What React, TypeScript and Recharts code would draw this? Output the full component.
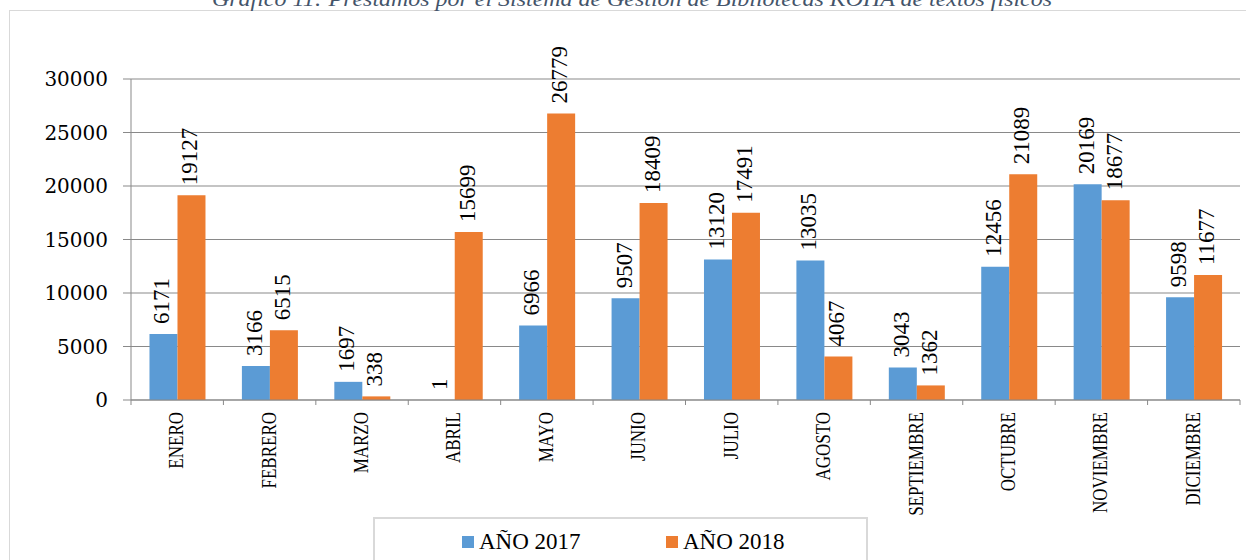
import { BarChart, Bar, XAxis, YAxis, CartesianGrid, LabelList } from "recharts";

const months = [
  "ENERO",
  "FEBRERO",
  "MARZO",
  "ABRIL",
  "MAYO",
  "JUNIO",
  "JULIO",
  "AGOSTO",
  "SEPTIEMBRE",
  "OCTUBRE",
  "NOVIEMBRE",
  "DICIEMBRE",
];
const prestamos2017 = [6171, 3166, 1697, 1, 6966, 9507, 13120, 13035, 3043, 12456, 20169, 9598];
const prestamos2018 = [19127, 6515, 338, 15699, 26779, 18409, 17491, 4067, 1362, 21089, 18677, 11677];
const yTicks = [0, 5000, 10000, 15000, 20000, 25000, 30000];
const seriesNames = ["AÑO 2017", "AÑO 2018"];
const title = "Gráfico 11: Préstamos por el Sistema de Gestión de Bibliotecas KOHA de textos físicos";

const data = months.map((mes, i) => ({
  mes,
  a2017: prestamos2017[i],
  a2018: prestamos2018[i],
}));

const BLUE = "#5B9BD5";
const ORANGE = "#ED7D31";
const GRID = "#898989";
const SERIF = "'Liberation Serif', serif";

function MonthTick(props: any) {
  const { x, y, payload, index, visibleTicksCount, width } = props;
  const half = payload?.offset || width / visibleTicksCount / 2;
  return (
    <g>
      <line x1={x - half} x2={x - half} y1={y} y2={y + 5} stroke={GRID} />
      {index === visibleTicksCount - 1 && (
        <line x1={x + half} x2={x + half} y1={y} y2={y + 5} stroke={GRID} />
      )}
      <text
        transform={`translate(${x + 6},${y + 12}) rotate(-90) scale(0.85,1)`}
        textAnchor="end"
        fontFamily={SERIF}
        fontSize={20}
        fill="#000"
      >
        {payload.value}
      </text>
    </g>
  );
}

function ValueLabel(props: any) {
  const { x, y, width, value } = props;
  return (
    <text
      transform={`translate(${x + width / 2 + 6},${y - 10}) rotate(-90)`}
      textAnchor="start"
      fontFamily={SERIF}
      fontSize={23}
      fill="#000"
    >
      {value}
    </text>
  );
}

export default function App() {
  return (
    <div
      style={{
        position: "absolute",
        left: 0,
        top: 0,
        width: 1246,
        height: 560,
        overflow: "hidden",
        background: "#fff",
      }}
    >
      <div
        style={{
          position: "absolute",
          left: 9,
          top: 10,
          width: 1260,
          height: 600,
          border: "1px solid #d9d9d9",
        }}
      />
      <svg width={1246} height={30} style={{ position: "absolute", left: 0, top: 0 }}>
        <text
          x={632}
          y={6}
          textAnchor="middle"
          fontFamily={SERIF}
          fontStyle="italic"
          fontSize={21}
          fill="#44546A"
          textLength={840}
          lengthAdjust="spacingAndGlyphs"
        >
          {title}
        </text>
      </svg>
      <div style={{ position: "absolute", left: 0, top: 0 }}>
        <BarChart
          width={1246}
          height={560}
          data={data}
          margin={{ top: 79, right: 6, bottom: 0, left: 0 }}
          barCategoryGap="20%"
          barGap={0}
        >
          <CartesianGrid vertical={false} stroke={GRID} />
          <XAxis
            dataKey="mes"
            height={160}
            interval={0}
            tickSize={0}
            tickMargin={0}
            tickLine={false}
            axisLine={{ stroke: GRID }}
            tick={<MonthTick />}
          />
          <YAxis
            width={131}
            domain={[0, 30000]}
            ticks={yTicks}
            tickSize={8}
            tickMargin={15}
            tickLine={{ stroke: GRID }}
            axisLine={{ stroke: GRID }}
            tick={{ fontFamily: "'DejaVu Serif', serif", fontSize: 20, fill: "#000" }}
          />
          <Bar dataKey="a2017" name={seriesNames[0]} fill={BLUE} isAnimationActive={false}>
            <LabelList dataKey="a2017" content={<ValueLabel />} />
          </Bar>
          <Bar dataKey="a2018" name={seriesNames[1]} fill={ORANGE} isAnimationActive={false}>
            <LabelList dataKey="a2018" content={<ValueLabel />} />
          </Bar>
        </BarChart>
      </div>
      <div
        style={{
          position: "absolute",
          left: 373,
          top: 517,
          width: 491,
          height: 80,
          border: "2px solid #d9d9d9",
          fontFamily: SERIF,
          fontSize: 23,
          color: "#000",
        }}
      >
        {seriesNames.map((name, i) => (
          <div
            key={name}
            style={{
              position: "absolute",
              left: 87 + i * 204,
              top: 10,
              display: "flex",
              alignItems: "center",
              whiteSpace: "nowrap",
            }}
          >
            <span
              style={{
                display: "inline-block",
                width: 12,
                height: 12,
                background: i === 0 ? BLUE : ORANGE,
                marginRight: 5,
              }}
            />
            {name}
          </div>
        ))}
      </div>
    </div>
  );
}
